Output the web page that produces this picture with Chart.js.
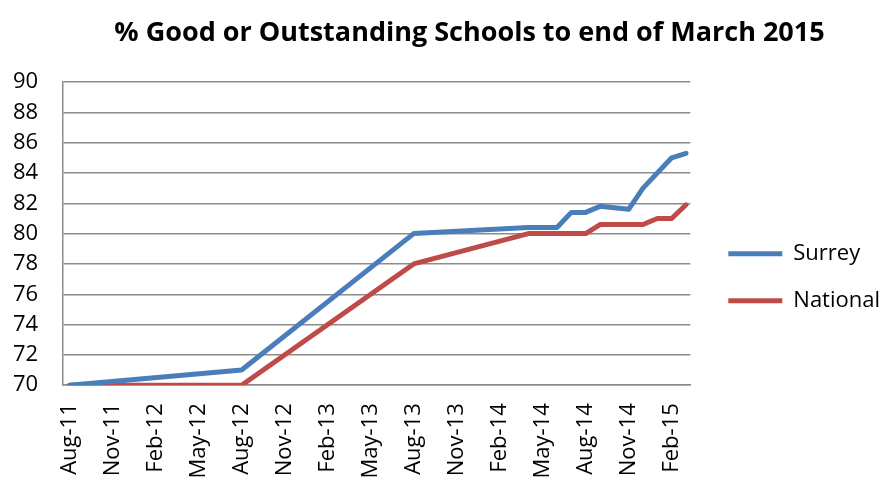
<!DOCTYPE html>
<html>
<head>
<meta charset="utf-8">
<script src="https://cdn.jsdelivr.net/npm/chart.js@4/dist/chart.umd.min.js"></script>
<style>
  html, body { margin: 0; padding: 0; background: #ffffff; }
  #wrap { width: 886px; height: 482px; position: relative; }
</style>
</head>
<body>
<div id="wrap"><canvas id="c" width="886" height="482"></canvas></div>
<script>
// ---- Data ----
const chartTitle = '% Good or Outstanding Schools to end of March 2015';
const tickLabels = ['Aug-11','Nov-11','Feb-12','May-12','Aug-12','Nov-12','Feb-13','May-13','Aug-13','Nov-13','Feb-14','May-14','Aug-14','Nov-14','Feb-15'];

const surreyDates  = ['Aug-11','Aug-12','Aug-13','Apr-14','Jun-14','Jul-14','Aug-14','Sep-14','Nov-14','Dec-14','Feb-15','Mar-15'];
const surreyValues = [70, 71, 80, 80.4, 80.4, 81.4, 81.4, 81.8, 81.6, 83, 85, 85.3];

const nationalDates  = ['Aug-11','Aug-12','Aug-13','Apr-14','Aug-14','Sep-14','Dec-14','Jan-15','Feb-15','Mar-15'];
const nationalValues = [70, 70, 78, 80, 80, 80.6, 80.6, 81, 81, 81.9];

const yMin = 70, yMax = 90, yStep = 2;

// ---- Helpers ----
const monthNames = ['Jan','Feb','Mar','Apr','May','Jun','Jul','Aug','Sep','Oct','Nov','Dec'];
function monthIndex(label) {
  const [m, y] = label.split('-');
  return (2000 + Number(y)) * 12 + monthNames.indexOf(m);
}
const baseMonth = monthIndex(tickLabels[0]);
const toX = (label) => monthIndex(label) - baseMonth;
const toPoints = (dates, values) => dates.map((d, i) => ({ x: toX(d), y: values[i] }));
const tickLabelByValue = {};
tickLabels.forEach(l => { tickLabelByValue[toX(l)] = l; });

const layoutTweaks = {
  id: 'layoutTweaks',
  afterLayout(chart) {
    const t = chart.titleBlock;
    if (t) { t.left += 37; t.right += 37; }
    const lg = chart.legend;
    if (lg) { lg.left += 13; lg.right += 13; lg.top += 29; lg.bottom += 29; }
  }
};

Chart.defaults.font.family = "'Open Sans', 'Liberation Sans', sans-serif";
Chart.defaults.color = '#000000';

new Chart(document.getElementById('c'), {
  type: 'line',
  data: {
    datasets: [
      {
        label: 'Surrey',
        data: toPoints(surreyDates, surreyValues),
        borderColor: '#4a7ebb',
        backgroundColor: '#4a7ebb',
        borderWidth: 5,
        borderCapStyle: 'round',
        borderJoinStyle: 'round',
        pointRadius: 0,
        tension: 0
      },
      {
        label: 'National',
        data: toPoints(nationalDates, nationalValues),
        borderColor: '#be4b48',
        backgroundColor: '#be4b48',
        borderWidth: 5,
        borderCapStyle: 'round',
        borderJoinStyle: 'round',
        pointRadius: 0,
        tension: 0
      }
    ]
  },
  options: {
    responsive: false,
    animation: false,
    events: [],
    layout: { padding: { left: -12, right: 9, top: 0, bottom: -14.5 } },
    plugins: {
      title: {
        display: true,
        text: chartTitle,
        font: { size: 27, weight: 'bold' },
        color: '#000000',
        padding: { top: 17, bottom: 32.6 }
      },
      legend: {
        display: true,
        position: 'right',
        labels: {
          usePointStyle: true,
          pointStyle: 'line',
          pointStyleWidth: 54,
          padding: 25,
          font: { size: 22 },
          color: '#000000'
        }
      },
      tooltip: { enabled: false }
    },
    scales: {
      x: {
        type: 'linear',
        min: -0.45,
        max: 43.3,
        afterBuildTicks: (scale) => {
          scale.ticks = tickLabels.map(l => ({ value: toX(l) }));
        },
        ticks: {
          autoSkip: false,
          minRotation: 90,
          maxRotation: 90,
          padding: 18,
          font: { size: 22 },
          color: '#000000',
          callback: (v) => tickLabelByValue[v] || ''
        },
        grid: { color: 'rgba(0,0,0,0)', drawTicks: false },
        border: { display: true, color: '#8c8c8c', width: 1.5 }
      },
      y: {
        min: yMin,
        max: yMax,
        ticks: {
          stepSize: yStep,
          autoSkip: false,
          padding: 25,
          font: { size: 22 },
          color: '#000000'
        },
        grid: { color: '#8c8c8c', lineWidth: 1.5, drawTicks: false },
        border: { display: true, color: '#8c8c8c', width: 1.5 }
      }
    }
  },
  plugins: [layoutTweaks]
});
</script>
</body>
</html>
